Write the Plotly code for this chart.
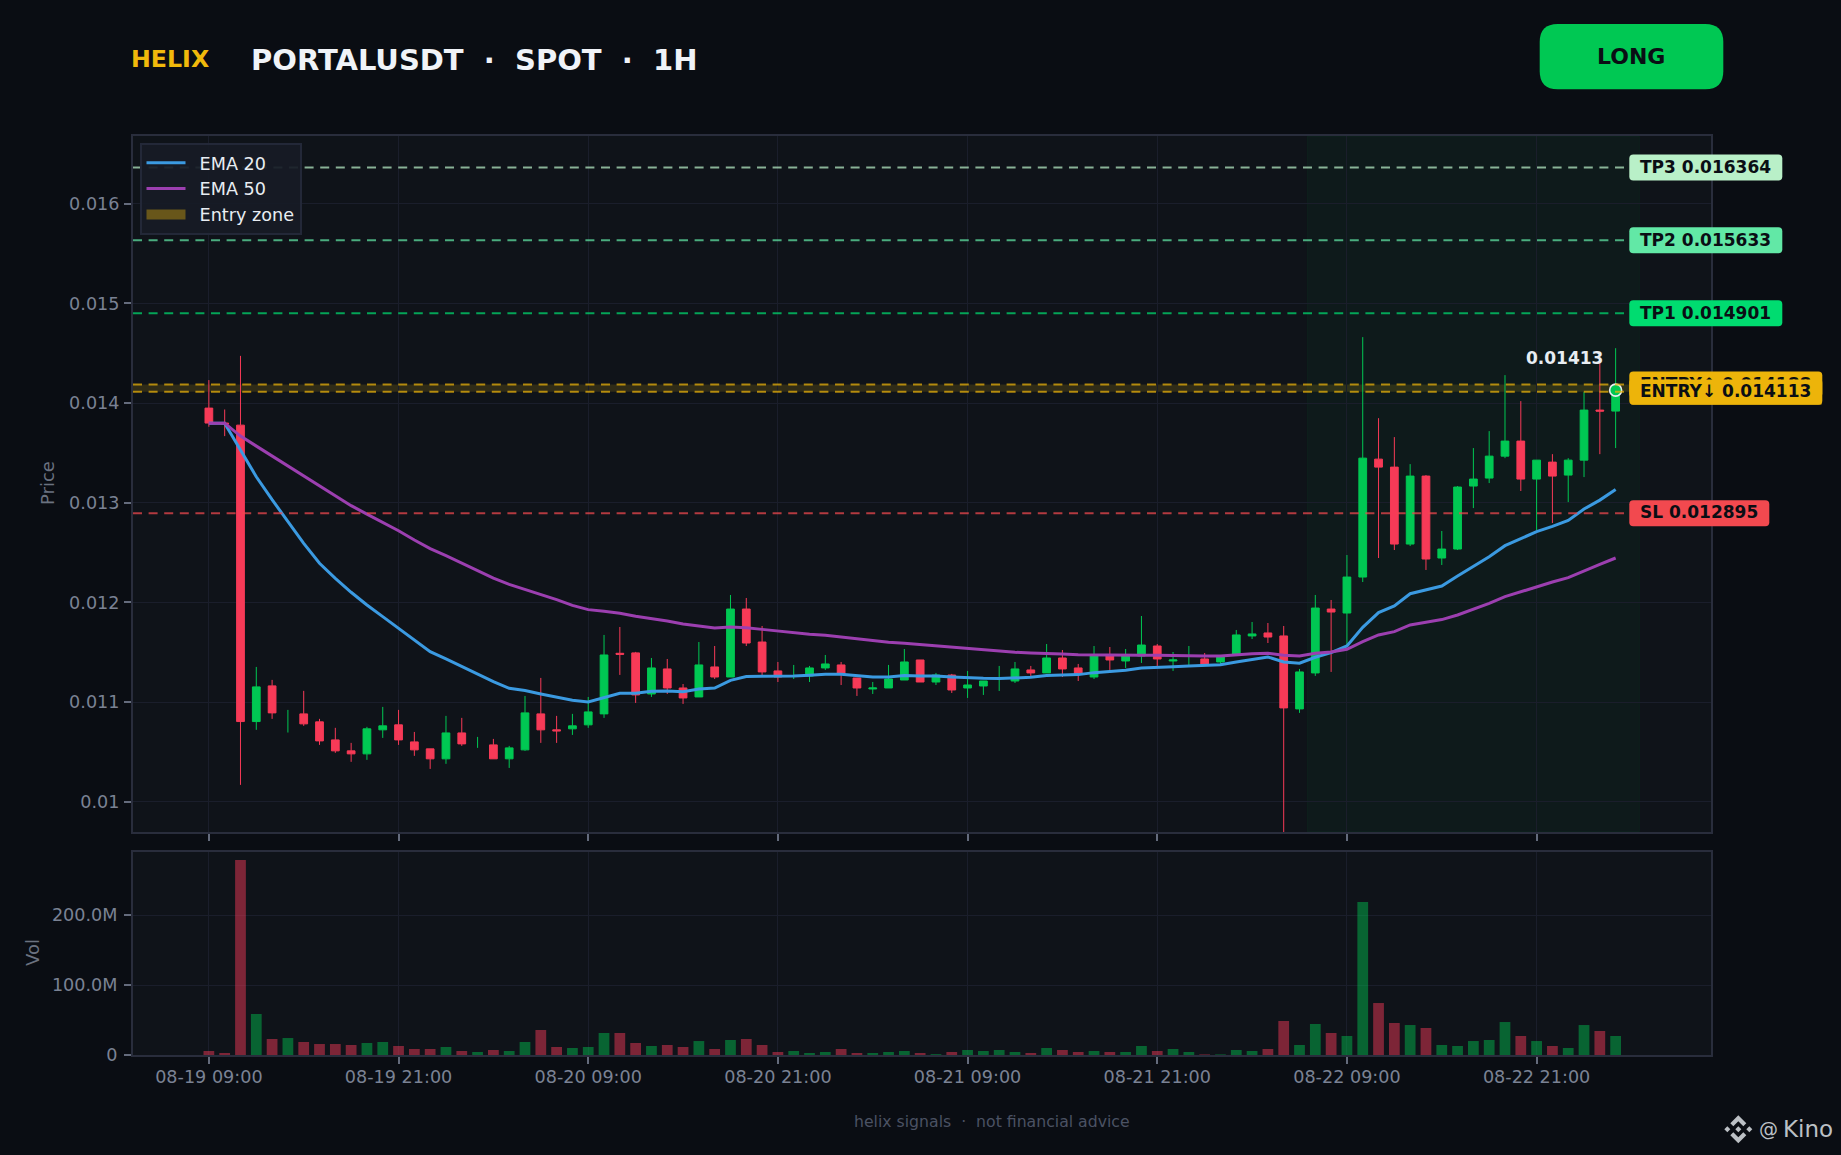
# -*- coding: utf-8 -*-

import pandas as pd
import plotly.graph_objects as go
from plotly.subplots import make_subplots

##################### DATA ####################################################
start_time = "2024-08-19 09:00"

opens = [0.01395, 0.0138, 0.013779, 0.010805, 0.011163, None, 0.010882, 0.010802, 0.010621, 0.010511,
         0.010481, 0.010722, 0.010772, 0.010601, 0.010531, 0.010431, 0.010691, None, 0.010571, 0.010431,
         0.010521, 0.010882, 0.010722, 0.010732, 0.010772, 0.010882, 0.01149, 0.011494, 0.011082, 0.011333,
         0.011142, 0.011052, 0.011353, 0.011252, 0.011934, 0.011603, 0.011313, None, 0.011262, 0.011343,
         0.011373, 0.011242, 0.011132, 0.011142, 0.011222, 0.011423, 0.011202, 0.011272, 0.011142, 0.011162,
         None, 0.011212, 0.011323, 0.011293, 0.011443, 0.011343, 0.011252, 0.011463, 0.011413, 0.011463,
         0.011563, 0.011413, None, 0.011433, 0.011403, 0.011483, 0.011664, 0.011694, 0.011664, 0.010932,
         0.011293, 0.011934, 0.011894, 0.012255, 0.013438, 0.013358, 0.012586, 0.013268, 0.012446, 0.012536,
         0.013168, 0.013248, 0.013468, 0.013619, 0.013238, 0.013408, 0.013278, 0.013428, 0.01393, 0.01392]
highs = [0.014231, 0.013936, 0.014474, 0.011353, 0.011223, None, 0.011113, 0.010832, 0.010742, 0.010591,
         0.010752, 0.010952, 0.010922, 0.010701, 0.010531, 0.010862, 0.010842, None, 0.010631, 0.010561,
         0.011062, 0.011243, 0.010862, 0.010882, 0.011052, 0.011674, 0.011754, 0.011504, 0.011443, 0.011433,
         0.011182, 0.011603, 0.011563, 0.012075, 0.012045, 0.011764, 0.011403, None, 0.011363, 0.011473,
         0.011403, 0.011242, 0.011202, 0.011373, 0.011533, 0.011423, 0.011293, 0.011283, 0.011313, 0.011212,
         None, 0.011403, 0.011363, 0.011583, 0.011523, 0.011383, 0.011563, 0.011553, 0.011533, 0.011864,
         0.011583, 0.011503, None, 0.011493, 0.011463, 0.011724, 0.011804, 0.011794, 0.011764, 0.011333,
         0.012075, 0.012025, 0.012476, 0.014662, 0.013849, 0.013659, 0.013388, 0.013278, 0.012717, 0.013168,
         0.013549, 0.013719, 0.014281, 0.01402, 0.013428, 0.013488, 0.013448, 0.01411, 0.014411, 0.014551]
lows = [0.013763, 0.013669, 0.01017, 0.010722, 0.010832, None, 0.010762, 0.010571, 0.010491, 0.010401,
        0.010421, 0.010641, 0.010571, 0.010461, 0.01033, 0.010381, 0.010561, None, 0.010431, 0.01034,
        0.010511, 0.010591, 0.010591, 0.010671, 0.010742, 0.010842, 0.011273, 0.010992, 0.011052, 0.011082,
        0.010982, 0.011052, 0.011232, 0.011252, 0.011563, 0.011272, 0.011202, None, 0.011202, 0.011323,
        0.011172, 0.011062, 0.011082, 0.011142, 0.011222, 0.011202, 0.011172, 0.011092, 0.011042, 0.011072,
        None, 0.011192, 0.011262, 0.011293, 0.011252, 0.011212, 0.011232, 0.011323, 0.011343, 0.011393,
        0.011363, 0.011313, None, 0.011363, 0.011383, 0.011483, 0.011633, 0.011593, 0.00965, 0.010892,
        0.011263, 0.011303, 0.011574, 0.012205, 0.012446, 0.012526, 0.012566, 0.012326, 0.012376, 0.012526,
        0.012947, 0.013198, 0.013448, 0.013118, 0.012727, 0.012797, 0.013007, 0.013258, 0.013488, 0.013549]
closes = [0.0138, 0.01379, 0.010805, 0.011153, 0.010892, None, 0.010782, 0.010611, 0.010511, 0.010481,
          0.010732, 0.010762, 0.010621, 0.010521, 0.010431, 0.010691, 0.010581, None, 0.010431, 0.010541,
          0.010892, 0.010722, 0.010712, 0.010762, 0.010902, 0.011473, 0.01148, 0.011072, 0.011343, 0.011142,
          0.011042, 0.011373, 0.011252, 0.011934, 0.011593, 0.011303, 0.011252, None, 0.011343, 0.011383,
          0.011283, 0.011142, 0.011142, 0.011232, 0.011403, 0.011202, 0.011272, 0.011122, 0.011172, 0.011212,
          None, 0.011333, 0.011293, 0.011443, 0.011333, 0.011283, 0.011463, 0.011423, 0.011463, 0.011573,
          0.011433, 0.011423, None, 0.011383, 0.011463, 0.011674, 0.011684, 0.011653, 0.010942, 0.011303,
          0.011944, 0.011904, 0.012255, 0.013448, 0.013358, 0.012586, 0.013268, 0.012436, 0.012536, 0.013158,
          0.013238, 0.013468, 0.013619, 0.013238, 0.013428, 0.013268, 0.013428, 0.01393, 0.01392, 0.01413]

# hours that show a wick and no body
wick_only_hours = [5, 17, 37, 50, 62]
wick_only_lows = [0.010695, 0.010541, 0.011232, 0.011112, 0.011373]
wick_only_highs = [0.010922, 0.010651, 0.011373, 0.011363, 0.011563]

ema20 = [0.013799, 0.013799, 0.013529, 0.013261, 0.013031, 0.01281, 0.012593, 0.012393, 0.012242, 0.012102,
         0.011975, 0.011858, 0.011741, 0.011624, 0.011507, 0.011433, 0.011357, 0.011283, 0.011206, 0.011139,
         0.011116, 0.011082, 0.011049, 0.011019, 0.011002, 0.011049, 0.011089, 0.011089, 0.011109, 0.011112,
         0.011105, 0.011132, 0.011142, 0.011219, 0.011256, 0.011259, 0.011259, 0.011262, 0.011269, 0.011279,
         0.011279, 0.011262, 0.011252, 0.011252, 0.011266, 0.011262, 0.011262, 0.011252, 0.011242, 0.011239,
         0.011236, 0.011242, 0.011249, 0.011266, 0.011272, 0.011276, 0.011296, 0.011306, 0.011319, 0.011343,
         0.011353, 0.011356, 0.011363, 0.011366, 0.011376, 0.011403, 0.01143, 0.011453, 0.011403, 0.01139,
         0.01145, 0.011497, 0.011564, 0.011751, 0.011898, 0.011965, 0.012088, 0.012125, 0.012165, 0.012265,
         0.012359, 0.012459, 0.01257, 0.012636, 0.01271, 0.012763, 0.012823, 0.012937, 0.013027, 0.013134]
ema50 = [0.013799, 0.013799, 0.013669, 0.013569, 0.013469, 0.013372, 0.013271, 0.013171, 0.013071, 0.012971,
         0.012887, 0.012804, 0.01272, 0.012626, 0.01254, 0.012469, 0.012393, 0.012319, 0.012245, 0.012182,
         0.012132, 0.012082, 0.012028, 0.011971, 0.011928, 0.011911, 0.011891, 0.011861, 0.011841, 0.011814,
         0.011784, 0.011764, 0.011744, 0.011754, 0.011747, 0.01173, 0.011714, 0.011694, 0.01168, 0.01167,
         0.011653, 0.011633, 0.011613, 0.0116, 0.01159, 0.011577, 0.011563, 0.011547, 0.011533, 0.01152,
         0.011506, 0.0115, 0.011493, 0.01149, 0.011483, 0.011476, 0.011473, 0.011473, 0.011473, 0.01147,
         0.01147, 0.011466, 0.011463, 0.011463, 0.011463, 0.011476, 0.011486, 0.01149, 0.01147, 0.011463,
         0.01149, 0.011503, 0.01153, 0.011607, 0.011674, 0.011707, 0.011774, 0.011801, 0.011828, 0.011874,
         0.011931, 0.011991, 0.012058, 0.012108, 0.012158, 0.012205, 0.012249, 0.012319, 0.012382, 0.012446]

# volume in millions
volumes = [5.7, 2.9, 279, 58.7, 22.9, 24.3, 18.6, 15.7, 15.7, 14.3,
           17.2, 18.6, 12.9, 8.6, 8.6, 11.5, 5.7, 4.3, 7.2, 5.7,
           18.6, 35.8, 11.5, 10, 11.5, 31.5, 31.5, 17.2, 12.9, 14.3,
           11.5, 20, 8.6, 21.5, 22.9, 14.3, 4.3, 5.7, 2.9, 4.3,
           8.6, 2.9, 2.9, 4.3, 5.7, 2.9, 1.2, 4.3, 7.2, 5.7,
           7.2, 4.3, 2.9, 10, 7.2, 4.3, 5.7, 4.3, 4.3, 12.9,
           5.7, 8.6, 4.3, 0.8, 0.8, 7.2, 5.7, 8.6, 48.7, 14.3,
           44.4, 31.5, 27.2, 219, 74.4, 45.8, 42.9, 38.7, 14.3, 12.9,
           20, 21.5, 47.2, 27.2, 20, 12.9, 10, 42.9, 34.4, 27.2]

level_names = ["TP3", "TP2", "TP1", "ENTRY\u2191", "ENTRY\u2193", "SL"]
level_values = [0.016364, 0.015633, 0.014901, 0.014188, 0.014113, 0.012895]
level_colors = ["#b9f0c8", "#62e8a6", "#00dc70", "#edb40a", "#edb40a", "#f2494f"]
level_label_widths = [153, 153, 153, 193, 193, 140]

vol_tick_values = [0, 100e6, 200e6]
vol_tick_text = ["0", "100.0M", "200.0M"]

####################### COLOURS AND GEOMETRY ##################################
BG = "#0a0d13"
PLOT_BG = "#0f1319"
GRID = "#1a1e2b"
FRAME = "#292d3c"
TICK_TEXT = "#7a8294"
UP = "#00c853"
DOWN = "#f73a57"
FONT = "DejaVu Sans"

W, H = 1841, 1155
LEFT, RIGHT = 133, 1711
TOP, MAIN_BOTTOM, VOL_TOP, BOTTOM = 136, 832, 852, 1055
Y_MIN, Y_MAX = 0.009697, 0.01668


def xp(px):
    return (px - LEFT) / (RIGHT - LEFT)


def yp(py):
    return 1 - (py - TOP) / (BOTTOM - TOP)


def value_to_py(v):
    return TOP + (Y_MAX - v) / (Y_MAX - Y_MIN) * (MAIN_BOTTOM - TOP)


def polygon(points):
    return "M " + " L ".join(f"{xp(a)} {yp(b)}" for a, b in points) + " Z"


def round_box(x0, y0, x1, y1, r, color):
    path = (f"M {xp(x0 + r)} {yp(y0)} L {xp(x1 - r)} {yp(y0)} Q {xp(x1)} {yp(y0)} {xp(x1)} {yp(y0 + r)} "
            f"L {xp(x1)} {yp(y1 - r)} Q {xp(x1)} {yp(y1)} {xp(x1 - r)} {yp(y1)} "
            f"L {xp(x0 + r)} {yp(y1)} Q {xp(x0)} {yp(y1)} {xp(x0)} {yp(y1 - r)} "
            f"L {xp(x0)} {yp(y0 + r)} Q {xp(x0)} {yp(y0)} {xp(x0 + r)} {yp(y0)} Z")
    return dict(type="path", xref="paper", yref="paper", path=path, fillcolor=color,
                line=dict(width=0), layer="above")


def label(text, px, py, size, color, bold=False, xanchor="left", angle=0):
    txt = f"<b>{text}</b>" if bold else text
    return dict(text=txt, xref="paper", yref="paper", x=xp(px), y=yp(py), showarrow=False,
                xanchor=xanchor, yanchor="middle", align="left", textangle=angle,
                font=dict(family=FONT, size=size, color=color))


########################## BUILD THE FIGURE ###################################
times = pd.date_range(start_time, periods=len(closes), freq="h")

fig = make_subplots(rows=2, cols=1, shared_xaxes=True)

fig.add_trace(go.Candlestick(x=times, open=opens, high=highs, low=lows, close=closes,
                             increasing=dict(line=dict(color=UP, width=1), fillcolor=UP),
                             decreasing=dict(line=dict(color=DOWN, width=1), fillcolor=DOWN),
                             showlegend=False, hoverinfo="skip"), row=1, col=1)

wick_x, wick_y = [], []
for hour, low, high in zip(wick_only_hours, wick_only_lows, wick_only_highs):
    wick_x += [times[hour], times[hour], None]
    wick_y += [low, high, None]
fig.add_trace(go.Scatter(x=wick_x, y=wick_y, mode="lines", line=dict(color=UP, width=1),
                         showlegend=False, hoverinfo="skip"), row=1, col=1)

LEGEND_GAP = "\u00a0\u2009"
fig.add_trace(go.Scatter(x=times, y=ema20, mode="lines", name=LEGEND_GAP + "EMA 20",
                         line=dict(color="#3b9ae1", width=3)), row=1, col=1)
fig.add_trace(go.Scatter(x=times, y=ema50, mode="lines", name=LEGEND_GAP + "EMA 50",
                         line=dict(color="#9c3fb0", width=3)), row=1, col=1)
# legend swatch only, the band itself is a shape
fig.add_trace(go.Scatter(x=[None], y=[None], mode="lines", name=LEGEND_GAP + "Entry zone",
                         line=dict(color="rgba(240,185,11,0.38)", width=12)), row=1, col=1)

fig.add_trace(go.Scatter(x=[times[-1]], y=[closes[-1]], mode="markers", showlegend=False,
                         marker=dict(color=UP, size=12, line=dict(color="#e8edf2", width=1.6))),
              row=1, col=1)

vol_colors = ["rgba(0,200,83,0.45)" if c is None or c >= o else "rgba(247,58,87,0.48)"
              for o, c in zip(opens, closes)]
fig.add_trace(go.Bar(x=times, y=[v * 1e6 for v in volumes], marker=dict(color=vol_colors, line=dict(width=0)),
                     showlegend=False, hoverinfo="skip"), row=2, col=1)

##################### SHADED ZONES AND LEVEL LINES ############################
half_hour = pd.Timedelta(minutes=30)
shapes = [
    # last stretch highlighted in green
    dict(type="rect", xref="x", yref="y", x0=times[69] + half_hour, x1=times[-1] + pd.Timedelta(hours=1) + half_hour,
         y0=Y_MIN, y1=Y_MAX, fillcolor="rgba(0,200,83,0.04)", line=dict(color="rgba(0,200,83,0.06)", width=1),
         layer="below"),
    dict(type="rect", xref="x domain", yref="y", x0=0, x1=1, y0=level_values[4], y1=level_values[3],
         fillcolor="rgba(240,185,11,0.15)", line=dict(width=0), layer="below"),
]
for value, color in zip(level_values, level_colors):
    shapes.append(dict(type="line", xref="x domain", yref="y", x0=0, x1=1, y0=value, y1=value,
                       line=dict(color=color, width=2, dash="9px,6.6px"), opacity=0.72, layer="above"))

annotations = []
BOX_LEFT = 1629.3
for name, value, color, width in zip(level_names, level_values, level_colors, level_label_widths):
    cy = value_to_py(value)
    shapes.append(round_box(BOX_LEFT, cy - 13, BOX_LEFT + width, cy + 13, 4, color))
    if name == "ENTRY\u2193":
        # lower entry tag covers most of the upper one
        annotations.append(dict(text="\u00a0", xref="paper", yref="paper", x=xp(BOX_LEFT + 2), y=yp(cy),
                                xanchor="left", yanchor="middle", showarrow=False, width=width - 4, height=24,
                                bgcolor=color, borderpad=0, font=dict(family=FONT, size=10)))
    annotations.append(label(f"{name} {value:.6f}", BOX_LEFT + 8.5, cy - 0.8, 17, "#0a0e14", bold=True))

# price tag above the last candle
annotations.append(dict(text=f"<b>{closes[-1]:.5f}</b>", x=times[-1], y=closes[-1], xref="x", yref="y",
                        showarrow=False, xanchor="right", yanchor="middle", xshift=-11, yshift=32,
                        font=dict(family=FONT, size=17, color="#e8edf2")))

######################### HEADER, FOOTER, WATERMARK ###########################
annotations.append(label("HELIX", 129, 59, 23.7, "#f0b90b", bold=True))
annotations.append(label("PORTALUSDT\u00a0\u00a0\u00b7\u00a0\u00a0SPOT\u00a0\u00a0\u00b7\u00a0\u00a01H",
                         249.3, 60.5, 29, "#f0f3f8", bold=True))
shapes.append(round_box(1539.7, 24, 1723.3, 89.3, 18, UP))
annotations.append(label("LONG", 1631.2, 56, 22, "#0a0e14", bold=True, xanchor="center"))
annotations.append(label("helix signals\u00a0\u00a0\u00b7\u00a0\u00a0not financial advice",
                         991.5, 1121.5, 15.7, "#4b5263", xanchor="center"))
annotations.append(label("@", 1756.5, 1129, 19, "#bcc0c5"))
annotations.append(label("Kino", 1781, 1129, 23, "#bcc0c5"))

# axis titles
annotations.append(label("Price", 48, 483, 18, "#6b7280", xanchor="center", angle=-90))
annotations.append(label("Vol", 32, 953, 18, "#6b7280", xanchor="center", angle=-90))

LOGO_X, LOGO_Y = 1738.3, 1129.3
logo_polys = [
    [(0, -14), (8, -6), (5, -3), (0, -8), (-5, -3), (-8, -6)],
    [(0, 14), (8, 6), (5, 3), (0, 8), (-5, 3), (-8, 6)],
    [(0, -3), (3, 0), (0, 3), (-3, 0)],
    [(-11, -3), (-8, 0), (-11, 3), (-14, 0)],
    [(11, -3), (14, 0), (11, 3), (8, 0)],
]
for poly in logo_polys:
    shapes.append(dict(type="path", xref="paper", yref="paper",
                       path=polygon([(LOGO_X + a, LOGO_Y + b) for a, b in poly]),
                       fillcolor="#bcc0c5", line=dict(width=0), layer="above"))

########################## LAYOUT #############################################
axis_style = dict(showgrid=True, gridcolor=GRID, gridwidth=1, zeroline=False,
                  showline=True, linecolor=FRAME, linewidth=2, mirror=True,
                  ticks="outside", ticklen=7, tickwidth=1.5, tickcolor="#646b7c",
                  tickfont=dict(family=FONT, size=17.6, color=TICK_TEXT))
x_style = dict(range=["2024-08-19 04:12", "2024-08-23 08:02"], tick0=start_time, dtick=12 * 3600 * 1000,
               tickformat="%m-%d %H:%M", rangeslider=dict(visible=False), **axis_style)

fig.update_layout(
    width=W, height=H, autosize=False,
    paper_bgcolor=BG, plot_bgcolor=PLOT_BG,
    margin=dict(l=LEFT, r=W - RIGHT, t=TOP, b=H - BOTTOM, pad=0),
    font=dict(family=FONT),
    bargap=0.32,
    shapes=shapes, annotations=annotations,
    legend=dict(x=xp(139.5), y=yp(142.7), xanchor="left", yanchor="top", bgcolor="rgba(23,27,38,0.93)",
                bordercolor="#232838", borderwidth=2, itemwidth=39, entrywidth=125, entrywidthmode="pixels",
                font=dict(family=FONT, size=17.6, color="#e8edf2")),
    xaxis=dict(domain=[0, 1], showticklabels=False, **x_style),
    xaxis2=dict(domain=[0, 1], matches="x", ticklabelstandoff=-2, **x_style),
    yaxis=dict(domain=[yp(MAIN_BOTTOM), 1], range=[Y_MIN, Y_MAX], dtick=0.001, tick0=0.01,
               ticklabelstandoff=1, **axis_style),
    yaxis2=dict(domain=[0, yp(VOL_TOP)], range=[0, 290.6e6], tickvals=vol_tick_values, ticktext=vol_tick_text,
                ticklabelstandoff=3, **axis_style),
)

fig.write_html("out.html", config=dict(displayModeBar=False),
               post_script="document.body.style.margin='0';document.body.style.background='%s';" % BG)
